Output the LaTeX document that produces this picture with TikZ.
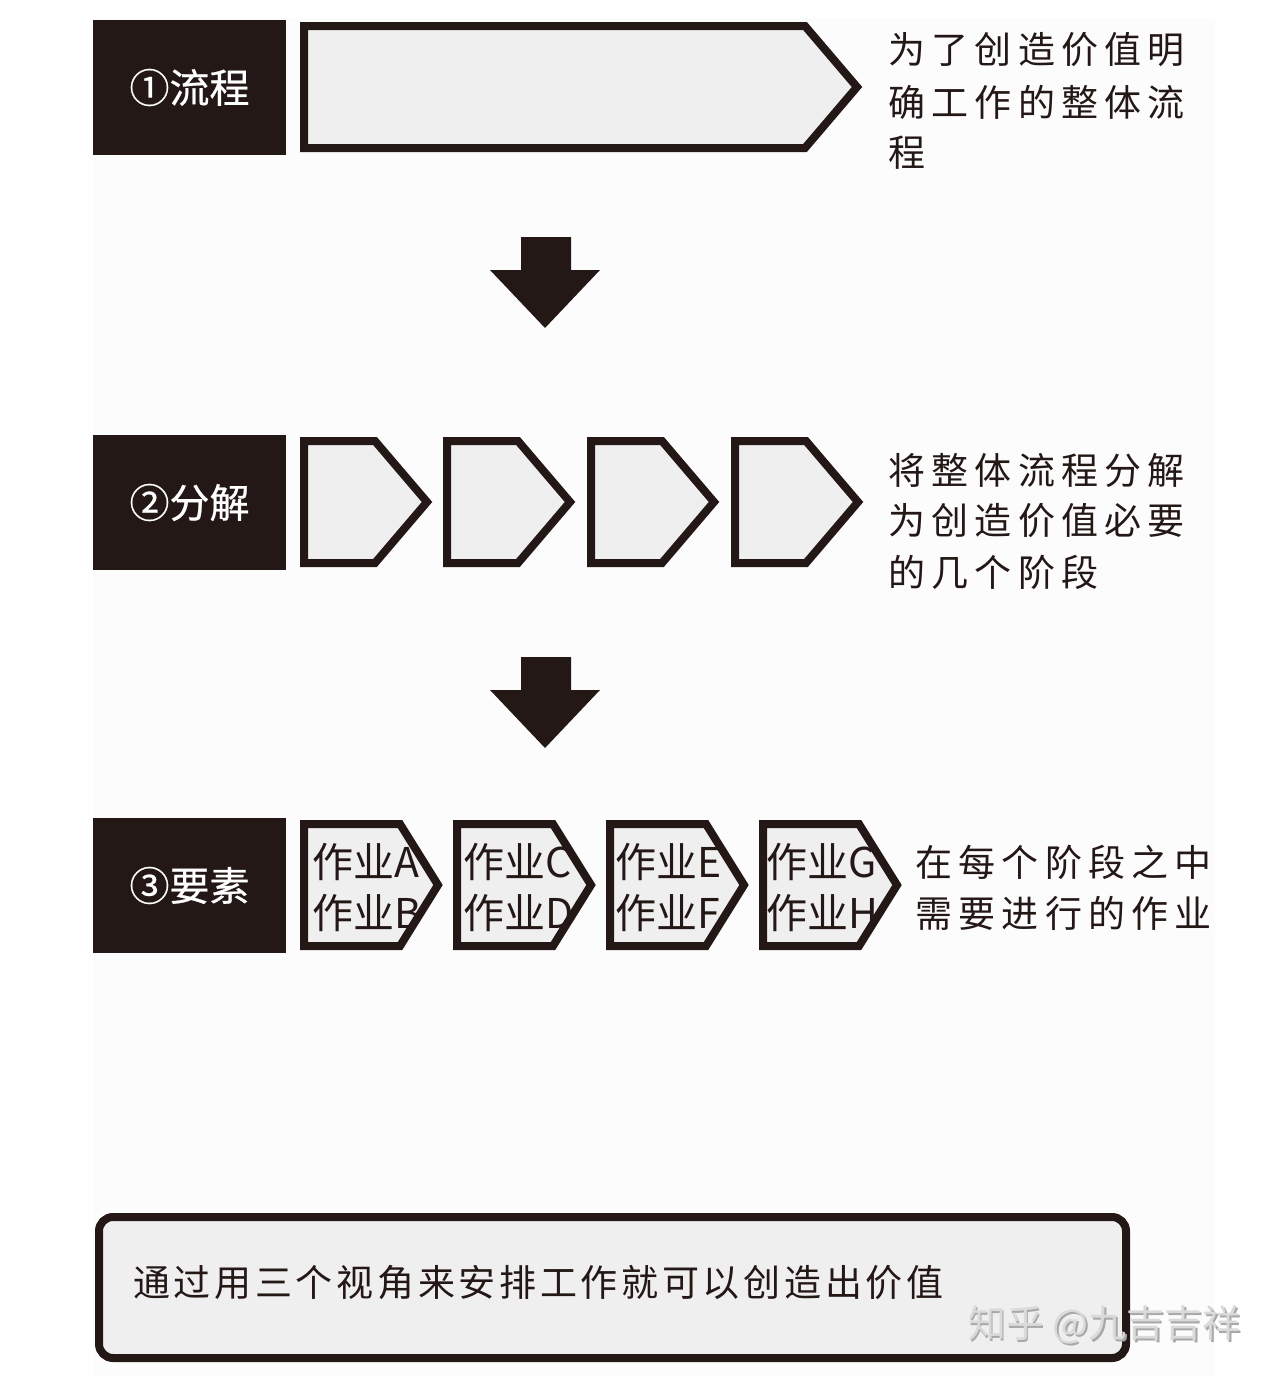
\documentclass[tikz,border=0pt]{standalone}
\usepackage{fontspec}
\setmainfont{Noto Sans CJK SC}
\definecolor{ink}{HTML}{231815}
\definecolor{pale}{HTML}{EFEFEF}
\definecolor{panel}{HTML}{FCFCFC}
\definecolor{wmark}{HTML}{DADADA}
\definecolor{wshade}{HTML}{A8A8A8}
\tikzset{
  labelbox/.style={fill=ink, draw=none, text=white, inner sep=0pt,
    minimum width=193pt, minimum height=135pt,
    font=\fontsize{40}{42}\selectfont\addfontfeatures{FakeBold=0.6}},
  stagebox/.style={draw=ink, fill=pale, line width=8pt, line join=miter},
  downarrow/.style={fill=ink, draw=none},
  desc/.style={text=ink, anchor=west, inner sep=0pt,
    font=\fontsize{37}{40}\selectfont\addfontfeatures{LetterSpace=17}},
  worktext/.style={text=ink, anchor=west, inner sep=0pt,
    font=\fontsize{41}{43}\selectfont},
  sumtext/.style={text=ink, anchor=west, inner sep=0pt,
    font=\fontsize{37}{40}\selectfont\addfontfeatures{LetterSpace=10}},
}
\begin{document}
\begin{tikzpicture}[x=1pt,y=-1pt]
\useasboundingbox (0,0) rectangle (1274,1376);
\fill[white] (0,0) rectangle (1274,1376);
\fill[panel] (93,18) rectangle (1215,1376);

% ---- row 1
\node[labelbox] (l1) at (189.5,87.5) {①流程};
\draw[stagebox] (304,26) -- (805,26) -- (857,87) -- (805,148) -- (304,148) -- cycle;
\node[desc] (d1a) at (888,50) {为了创造价值明};
\node[desc] (d1b) at (888,102) {确工作的整体流};
\node[desc] (d1c) at (888,153) {程};

% ---- arrow 1
\fill[downarrow] (521,237) -- (571,237) -- (571,270) -- (600,270) -- (545,328) -- (490,270) -- (521,270) -- cycle;

% ---- row 2
\node[labelbox] (l2) at (189.5,502.5) {②分解};
\foreach \L in {300,443,587,731}{
  \draw[stagebox] (\L+4,441) -- (\L+75,441) -- (\L+127,502) -- (\L+75,563) -- (\L+4,563) -- cycle;
}
\node[desc] (d2a) at (888,470) {将整体流程分解};
\node[desc] (d2b) at (888,521) {为创造价值必要};
\node[desc] (d2c) at (888,572) {的几个阶段};

% ---- arrow 2
\fill[downarrow] (521,657) -- (571,657) -- (571,690) -- (600,690) -- (545,748) -- (490,690) -- (521,690) -- cycle;

% ---- row 3
\node[labelbox] (l3) at (189.5,885.5) {③要素};
\foreach \L in {300,453,606,759}{
  \draw[stagebox] (\L+4,824) -- (\L+100,824) -- (\L+138,885) -- (\L+100,946) -- (\L+4,946) -- cycle;
}
\node[worktext] (wa) at (312,862) {作业A};
\node[worktext] (wb) at (312,913) {作业B};
\node[worktext] (wc) at (463,862) {作业C};
\node[worktext] (wd) at (463,913) {作业D};
\node[worktext] (we) at (615,862) {作业E};
\node[worktext] (wf) at (615,913) {作业F};
\node[worktext] (wg) at (766,862) {作业G};
\node[worktext] (wh) at (766,913) {作业H};
\node[desc] (d3a) at (915,862) {在每个阶段之中};
\node[desc] (d3b) at (915,913) {需要进行的作业};

% ---- summary box
\draw[stagebox, rounded corners=14pt] (99,1217) rectangle (1126,1358);
\node[sumtext] (sum) at (133,1283) {通过用三个视角来安排工作就可以创造出价值};

% ---- watermark
\node[text=wshade, anchor=west, inner sep=0pt, font=\fontsize{38}{40}\selectfont] (wm0) at (969.5,1326.5) {知乎 @九吉吉祥};
\node[text=wmark, anchor=west, inner sep=0pt, font=\fontsize{38}{40}\selectfont] (wm) at (968,1325) {知乎 @九吉吉祥};
\end{tikzpicture}
\end{document}
